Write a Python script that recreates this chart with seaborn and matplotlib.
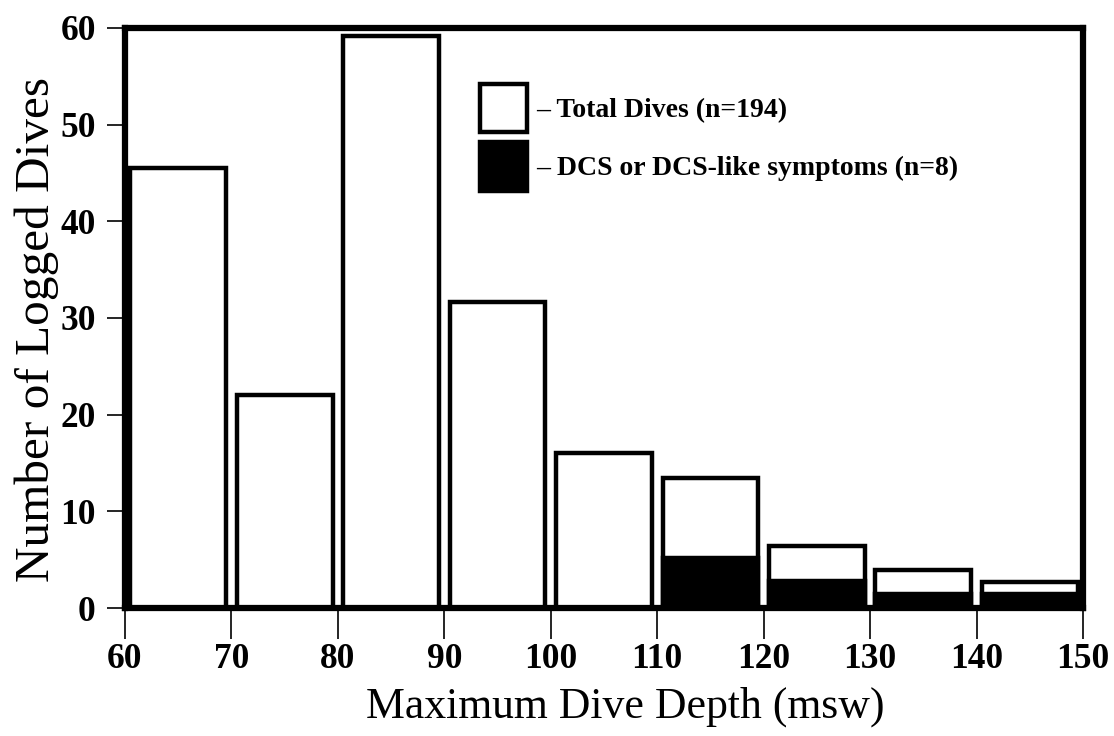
import matplotlib
matplotlib.use("Agg")
import matplotlib.pyplot as plt
import seaborn as sns
import numpy as np
from matplotlib.patches import Patch

# Data
bin_edges = [60, 70, 80, 90, 100, 110, 120, 130, 140, 150]
bin_mids = [65, 75, 85, 95, 105, 115, 125, 135, 145]
total_dives = [45.5, 22, 59.2, 31.7, 16, 13.5, 6.4, 3.9, 2.7]
dcs_dives = [0, 0, 0, 0, 0, 5.2, 2.8, 1.5, 1.5]
x_ticks = [60, 70, 80, 90, 100, 110, 120, 130, 140, 150]
y_ticks = [0, 10, 20, 30, 40, 50, 60]
legend_labels = ["– Total Dives (n=194)", "– DCS or DCS-like symptoms (n=8)"]

sns.set_theme(style="white")
plt.rcParams['font.family'] = ['Liberation Serif', 'DejaVu Serif']
plt.rcParams.update({"text.color": "black", "axes.labelcolor": "black",
                     "xtick.color": "black", "ytick.color": "black"})

fig = plt.figure(figsize=(11.14, 7.36), dpi=100)
ax = fig.add_axes([0.1122, 0.1739, 0.8600, 0.7881])

sns.histplot(x=bin_mids, weights=total_dives, bins=bin_edges, shrink=0.9,
             color="white", edgecolor="black", linewidth=3.2, alpha=1,
             ax=ax, zorder=2)
sns.histplot(x=bin_mids, weights=dcs_dives, bins=bin_edges, shrink=0.9,
             color="black", edgecolor="black", linewidth=3.2, alpha=1,
             ax=ax, zorder=3)

ax.set_xlim(60, 150)
ax.set_ylim(0, 60)
ax.set_xticks(x_ticks)
ax.set_yticks(y_ticks)
ax.tick_params(axis="x", direction="out", length=22, width=1.2, color="black",
               labelcolor="black", labelsize=25.5, pad=3, bottom=True)
ax.tick_params(axis="y", direction="out", length=13, width=1.2, color="black",
               labelcolor="black", labelsize=25.5, pad=8, left=True)
for lab in ax.get_xticklabels() + ax.get_yticklabels():
    lab.set_fontweight("bold")

for s in ax.spines.values():
    s.set_visible(True)
    s.set_color("black")
    s.set_linewidth(4.5)
    s.set_zorder(5)

ax.set_xlabel("Maximum Dive Depth (msw)", fontsize=31.5, labelpad=8, x=0.522,
              color="black")
ax.set_ylabel("Number of Logged Dives", fontsize=35.5, labelpad=1, y=0.48,
              color="black")

handles = [Patch(facecolor="white", edgecolor="black", linewidth=3.2),
           Patch(facecolor="black", edgecolor="black", linewidth=3.2)]
leg = ax.legend(handles, legend_labels, loc="upper left",
                bbox_to_anchor=(0.362, 0.918), frameon=False,
                prop={"size": 20, "weight": "bold"},
                handlelength=1.7, handleheight=2.3, handletextpad=0.3,
                labelspacing=0.36, borderaxespad=0, borderpad=0.3)
for t in leg.get_texts():
    t.set_color("black")

fig.savefig("out.png", dpi=100)
